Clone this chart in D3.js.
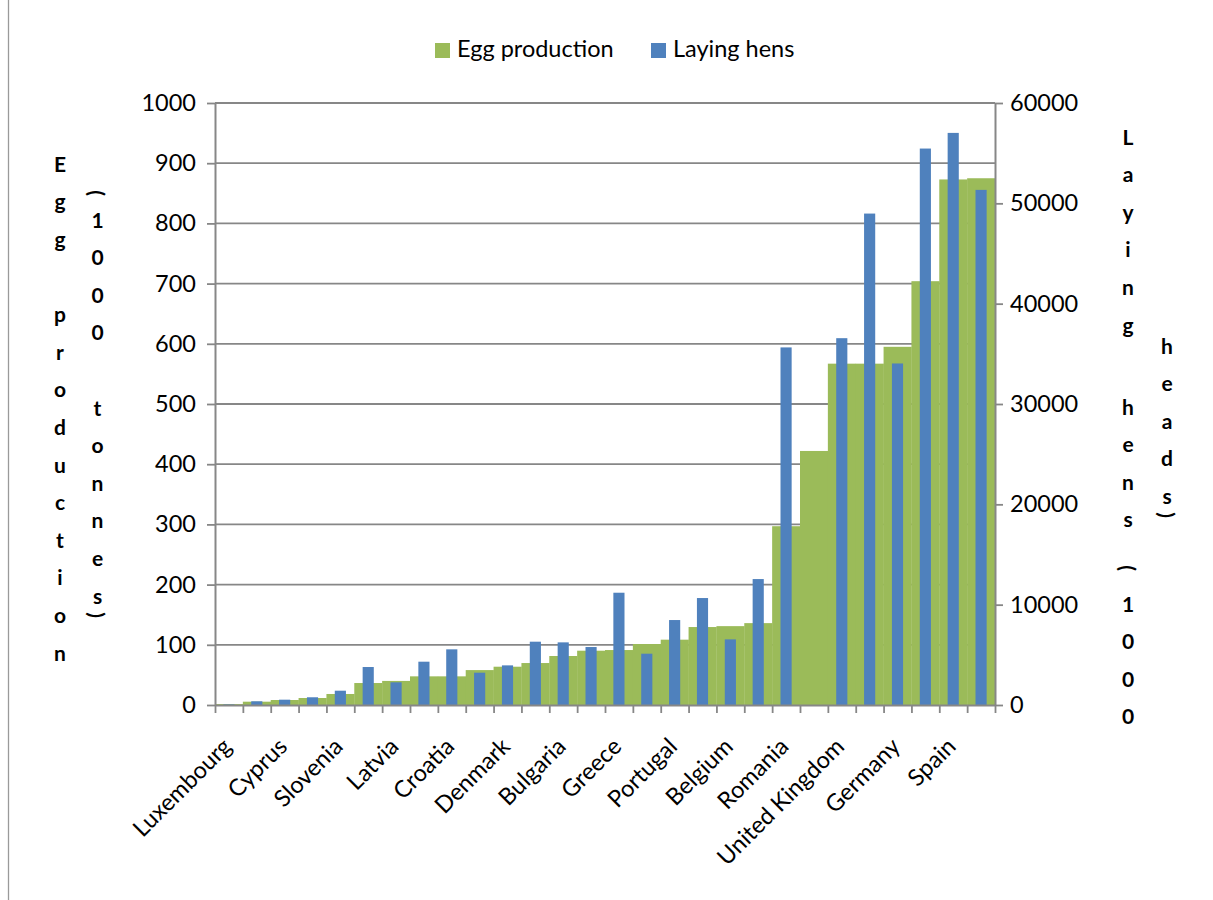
<!DOCTYPE html>
<html>
<head>
<meta charset="utf-8">
<script src="https://cdn.jsdelivr.net/npm/d3@7"></script>
<style>
  html, body { margin: 0; padding: 0; background: #ffffff; }
  svg { display: block; font-family: Lato, "Open Sans", "DejaVu Sans", sans-serif; }
</style>
</head>
<body>
<svg id="chart" width="1213" height="900"></svg>
<script>
// ---------------- data ----------------
const countries = ["Luxembourg", "Malta", "Cyprus", "Estonia", "Slovenia", "Lithuania", "Latvia",
  "Slovakia", "Croatia", "Ireland", "Denmark", "Finland", "Bulgaria", "Austria", "Greece",
  "Czech Republic", "Portugal", "Sweden", "Belgium", "Hungary", "Romania", "Netherlands",
  "United Kingdom", "Poland", "Germany", "Italy", "Spain", "France"];
// Egg production (1000 tonnes)
const eggProduction = [1.5, 5.5, 8.3, 11.6, 18.3, 36.5, 40, 47.6, 47.6, 58, 63.6, 69.7, 81.4, 90.2,
  91.3, 101.3, 108.5, 129.5, 131, 136, 297, 422, 567, 567, 595, 704, 873, 875];
// Laying hens (1000 heads)
const layingHens = [60, 370, 530, 770, 1425, 3786, 2260, 4316, 5548, 3220, 3950, 6310, 6243, 5778,
  11190, 5114, 8468, 10660, 6541, 12552, 35640, null, 36560, 48980, 34040, 55460, 57020, 51340];
const leftTicks = [0, 100, 200, 300, 400, 500, 600, 700, 800, 900, 1000];
const rightTicks = [0, 10000, 20000, 30000, 40000, 50000, 60000];
const seriesNames = ["Egg production", "Laying hens"];
const leftTitle = "Egg production (1000 tonnes)";
const rightTitle = "Laying hens (1000 heads)";

// ---------------- layout / style ----------------
const FONT = 'Lato, "Open Sans", "DejaVu Sans", sans-serif';
const GREEN = "#9BBB59", BLUE = "#4F81BD", AXIS = "#878787";
const P = { left: 215, right: 995, top: 103, bottom: 705 };
const svg = d3.select("#chart");

// chart area border (left edge visible)
svg.append("line").attr("x1", 8.5).attr("x2", 8.5).attr("y1", 0).attr("y2", 900)
  .attr("stroke", "#9a9a9a").attr("stroke-width", 1.3);

const x = d3.scaleBand().domain(countries).range([P.left, P.right]).paddingInner(0).paddingOuter(0);
const xb = d3.scaleLinear().domain([0, countries.length]).range([P.left, P.right]);
const yL = d3.scaleLinear().domain([0, 1000]).range([P.bottom, P.top]);
const yR = d3.scaleLinear().domain([0, 60000]).range([P.bottom, P.top]);

// gridlines
svg.append("g").selectAll("line").data(leftTicks.filter(d => d > 0)).join("line")
  .attr("x1", P.left).attr("x2", P.right)
  .attr("y1", d => yL(d)).attr("y2", d => yL(d))
  .attr("stroke", AXIS).attr("stroke-width", 1.8);

// green bars (primary axis, no gap)
svg.append("g").selectAll("rect").data(countries).join("rect")
  .attr("x", d => x(d))
  .attr("width", x.bandwidth() + 0.3)
  .attr("y", (d, i) => yL(eggProduction[i]))
  .attr("height", (d, i) => P.bottom - yL(eggProduction[i]))
  .attr("fill", GREEN);

// blue bars (secondary axis, gap width 150%)
const bw = x.bandwidth() / 2.5;
svg.append("g").selectAll("rect")
  .data(countries.map((c, i) => ({ c, v: layingHens[i] })).filter(d => d.v != null))
  .join("rect")
  .attr("x", d => x(d.c) + (x.bandwidth() - bw) / 2)
  .attr("width", bw)
  .attr("y", d => yR(d.v))
  .attr("height", d => P.bottom - yR(d.v))
  .attr("fill", BLUE);

function styleAxis(g) {
  g.attr("font-family", FONT).attr("font-size", 23.5);
  g.select(".domain").attr("stroke", AXIS).attr("stroke-width", 2);
  g.selectAll(".tick line").attr("stroke", AXIS).attr("stroke-width", 1.8);
  g.selectAll("text").attr("fill", "#000");
}
const fmt = d3.format("d");

// left axis
svg.append("g").attr("transform", `translate(${P.left},0)`)
  .call(d3.axisLeft(yL).tickValues(leftTicks).tickFormat(fmt).tickSize(8).tickSizeOuter(0).tickPadding(11))
  .call(styleAxis);

// right axis
svg.append("g").attr("transform", `translate(${P.right},0)`)
  .call(d3.axisRight(yR).tickValues(rightTicks).tickFormat(fmt).tickSize(8).tickSizeOuter(0).tickPadding(7))
  .call(styleAxis);

// bottom axis: ticks at category boundaries
svg.append("g").attr("transform", `translate(0,${P.bottom})`)
  .call(d3.axisBottom(xb).tickValues(d3.range(countries.length + 1)).tickSize(8).tickSizeOuter(0).tickFormat(""))
  .call(styleAxis);

// category labels (every other one, rotated)
const lab = svg.append("g").attr("transform", `translate(0,${P.bottom})`)
  .call(d3.axisBottom(x).tickSize(0).tickFormat((d, i) => i % 2 === 0 ? d : ""))
  .call(styleAxis);
lab.select(".domain").remove();
lab.selectAll("text")
  .attr("text-anchor", "end").attr("x", 0).attr("y", 0).attr("dy", 0)
  .attr("transform", "translate(4,43) rotate(-45)");

// legend
const legend = svg.append("g").attr("font-family", FONT);
const legItems = [{ name: seriesNames[0], color: GREEN, x: 435 }, { name: seriesNames[1], color: BLUE, x: 651 }];
legItems.forEach(it => {
  legend.append("rect").attr("x", it.x).attr("y", 43).attr("width", 15).attr("height", 15).attr("fill", it.color);
  legend.append("text").attr("x", it.x + 22).attr("y", 57).attr("font-size", 23.5).attr("fill", "#000").text(it.name);
});

// stacked axis titles (Excel "stacked" orientation, wrapped in two columns)
const STEP = 37.6;
function stacked(xc, segments) {
  const g = svg.append("g").attr("font-family", FONT).attr("font-weight", 700).attr("font-size", 21).attr("fill", "#000");
  segments.forEach(seg => {
    const chars = Array.from(seg.t);
    chars.forEach((ch, k) => {
      if (ch === " ") return;
      const yy = seg.y + k * (seg.step || STEP);
      const t = g.append("text").attr("text-anchor", "middle").attr("dominant-baseline", "central").text(ch);
      if (ch === "(" || ch === ")") t.attr("transform", `translate(${xc},${yy}) rotate(90)`);
      else t.attr("x", xc).attr("y", yy);
    });
  });
}
// split the title strings into their visible pieces
const lt = leftTitle.match(/^(\S+) (\S+) (\()(\d+) (\S+)(\))$/);
stacked(60, [{ t: lt[1], y: 163.3 }, { t: lt[2], y: 313.7 }]);
stacked(97.5, [{ t: lt[3], y: 193 }, { t: lt[4], y: 219 }, { t: lt[5], y: 407 }, { t: lt[6], y: 615 }]);
const rt = rightTitle.match(/^(\S+) (\S+) (\()(\d+) (\S+)(\))$/);
stacked(1128, [{ t: rt[1], y: 136 }, { t: rt[2], y: 406 }, { t: rt[3], y: 568 }, { t: rt[4], y: 603 }]);
stacked(1167, [{ t: rt[5], y: 345 }, { t: rt[6], y: 515 }]);
</script>
</body>
</html>
